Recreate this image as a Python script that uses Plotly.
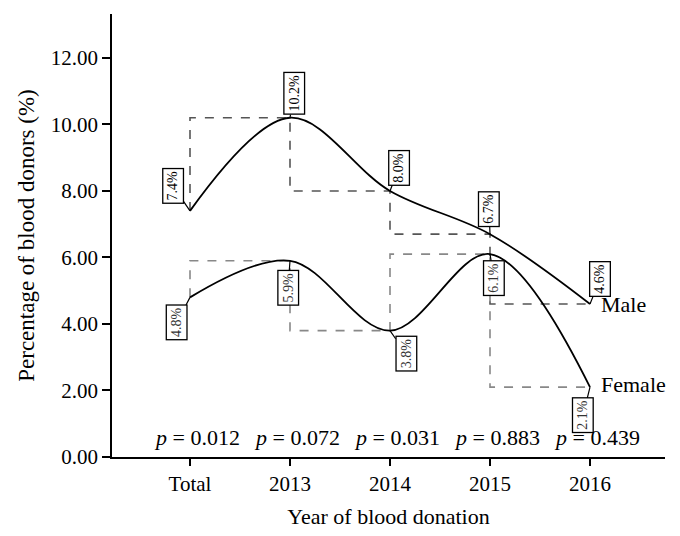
import plotly.graph_objects as go

categories = ["Total", "2013", "2014", "2015", "2016"]
male = [7.4, 10.2, 8.0, 6.7, 4.6]
female = [4.8, 5.9, 3.8, 6.1, 2.1]
p_values = ["0.012", "0.072", "0.031", "0.883", "0.439"]
y_ticks = [0, 2, 4, 6, 8, 10, 12]
y_tick_labels = ["0.00", "2.00", "4.00", "6.00", "8.00", "10.00", "12.00"]

# label offsets (pixels) of boxed value labels relative to the points
male_offsets = [(-17, -25), (4, -24), (9, -23), (-1, -25), (10, -25)]
female_offsets = [(-13, 25), (-2, 27), (16, 23), (4, 24), (-7, 28)]

FONT = "Liberation Serif"
x = list(range(len(categories)))

fig = go.Figure()
# dashed step connectors
fig.add_trace(go.Scatter(x=x, y=male, mode="lines", line=dict(shape="vh", dash="dash", color="#555555", width=1.6),
                         hoverinfo="skip", showlegend=False))
fig.add_trace(go.Scatter(x=x, y=female, mode="lines", line=dict(shape="vh", dash="dash", color="#888888", width=1.6),
                         hoverinfo="skip", showlegend=False))
# smooth curves
fig.add_trace(go.Scatter(x=x, y=male, mode="lines", line=dict(shape="spline", smoothing=1.0, color="black", width=1.8),
                         showlegend=False, name="Male"))
fig.add_trace(go.Scatter(x=x, y=female, mode="lines", line=dict(shape="spline", smoothing=1.0, color="black", width=1.8),
                         showlegend=False, name="Female"))

annotations = []
for xi, v, (ax, ay) in zip(x, male, male_offsets):
    annotations.append(dict(x=xi, y=v, xref="x", yref="y", text=f"{v:.1f}%", textangle=-90,
                            showarrow=True, arrowhead=0, arrowwidth=1.2, arrowcolor="black", ax=ax, ay=ay,
                            bordercolor="black", borderwidth=1.3, borderpad=2, bgcolor="white",
                            font=dict(family=FONT, size=14, color="black")))
for xi, v, (ax, ay) in zip(x, female, female_offsets):
    annotations.append(dict(x=xi, y=v, xref="x", yref="y", text=f"{v:.1f}%", textangle=-90,
                            showarrow=True, arrowhead=0, arrowwidth=1.2, arrowcolor="black", ax=ax, ay=ay,
                            bordercolor="black", borderwidth=1.3, borderpad=2, bgcolor="white",
                            font=dict(family=FONT, size=14, color="#333333")))
for xi, p in zip(x, p_values):
    annotations.append(dict(x=xi, y=0.6, xref="x", yref="y", text=f"<i>p</i> = {p}", showarrow=False,
                            xshift=7, font=dict(family=FONT, size=22, color="black")))
annotations.append(dict(x=4, y=male[4], xref="x", yref="y", text="Male", showarrow=False, xanchor="left",
                        xshift=9, yshift=0, font=dict(family=FONT, size=22, color="black")))
annotations.append(dict(x=4, y=female[4], xref="x", yref="y", text="Female", showarrow=False, xanchor="left",
                        xshift=9, yshift=3, font=dict(family=FONT, size=22, color="black")))

fig.update_layout(
    width=680, height=536,
    margin=dict(l=104, r=23, t=6, b=87),
    paper_bgcolor="white", plot_bgcolor="white",
    font=dict(family=FONT, size=21, color="black"),
    annotations=annotations,
    xaxis=dict(range=[-0.78, 4.75], tickvals=x, ticktext=categories, showgrid=False, zeroline=False,
               showline=True, linecolor="black", linewidth=1.5, ticks="outside", ticklen=7, tickwidth=1.5,
               tickcolor="black", tickfont=dict(family=FONT, size=21), automargin=False,
               title=dict(text="Year of blood donation", font=dict(family=FONT, size=22), standoff=14)),
    yaxis=dict(range=[0, 13.32], tickvals=y_ticks, ticktext=y_tick_labels, showgrid=False, zeroline=False,
               showline=True, linecolor="black", linewidth=1.5, ticks="outside", ticklen=8, tickwidth=1.5,
               tickcolor="black", tickfont=dict(family=FONT, size=21), automargin=False,
               title=dict(text="Percentage of blood donors (%)", font=dict(family=FONT, size=23), standoff=10)),
)

fig.write_html("out.html")
